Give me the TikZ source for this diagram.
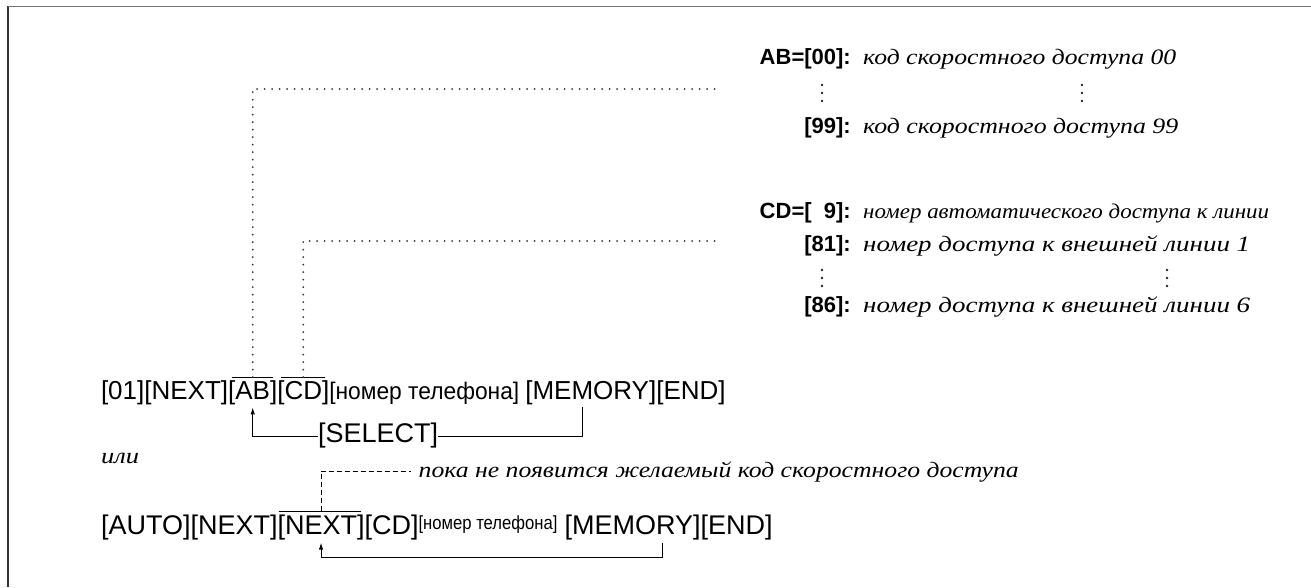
\documentclass[tikz,border=0pt]{standalone}
\usepackage{fontspec}
\usepackage{graphicx}
\setmainfont{Liberation Serif}
\newfontfamily\keyf{Liberation Sans}
\usetikzlibrary{calc,arrows.meta}
\newcommand\hfit[2]{\resizebox{#1}{\height}{#2}}
\begin{document}
\begin{tikzpicture}[x=1pt,y=-1pt,
  key/.style={font=\keyf\fontsize{26}{30}\selectfont, inner sep=0pt, outer sep=0pt, anchor=base west},
  keyb/.style={key, font=\keyf\fontsize{27}{30}\selectfont},
  lab/.style={font=\keyf\bfseries\fontsize{22}{26}\selectfont, inner sep=0pt, anchor=base east},
  itx/.style={font=\itshape\fontsize{22}{26}\selectfont, inner sep=0pt, anchor=base west},
  vdot/.style={fill=black!85},
  dots/.style={line width=2pt, dash pattern=on 0pt off 7.5pt, line cap=round, draw=black!80},
  dashln/.style={line width=0.9pt, dash pattern=on 5pt off 3pt},
  conn/.style={line width=1pt},
  arr/.style={-{Latex[length=7pt,width=4.5pt]}}]
\useasboundingbox (0,0) rectangle (1311,587);
% frame
\draw[line width=1.6pt, black!80] (8,587) -- (8,6);
\draw[line width=0.8pt, black!55] (8,6) -- (1311,6);
% right block AB
\node[lab] (lAB) at (851,64) {AB=[00]:};
\node[itx] (tAB) at (863,64) {\hfit{313pt}{код скоростного доступа 00}};
\foreach \yy in {85,93,101} {
  \fill[vdot] (822,\yy) circle (1.4);
  \fill[vdot] (1082,\yy) circle (1.4);
}
\node[lab] (l99) at (851,133) {[99]:};
\node[itx] (t99) at (863,133) {\hfit{315pt}{код скоростного доступа 99}};
% right block CD
\node[lab] (lCD) at (851,218) {CD=[\hphantom{0}9]:};
\node[itx] (tCD) at (863,218) {\hfit{406pt}{\fontsize{21}{24}\selectfont номер автоматического доступа к линии}};
\node[lab] (l81) at (851,251) {[81]:};
\node[itx] (t81) at (863,251) {\hfit{387pt}{номер доступа к внешней линии 1}};
\foreach \yy in {270,278,286} {
  \fill[vdot] (822,\yy) circle (1.4);
  \fill[vdot] (1167,\yy) circle (1.4);
}
\node[lab] (l86) at (851,312) {[86]:};
\node[itx] (t86) at (863,312) {\hfit{387pt}{номер доступа к внешней линии 6}};
% line 1
\node[key] (a1) at (101,399) {[01]};
\node[key] (a2) at (a1.base east) {[NEXT]};
\node[key] (a3) at (a2.base east) {[AB]};
\node[key] (a4) at (a3.base east) {[CD]};
\node[key] (a5) at (a4.base east) {\hfit{190pt}{\fontsize{24}{24}\selectfont [номер телефона]}};
\node[key] (a6) at ([xshift=6pt]a5.base east) {[MEMORY]};
\node[key] (a7) at (a6.base east) {[END]};
\draw[conn] ([xshift=4pt,yshift=3pt]a3.north west) -- ([xshift=-4pt,yshift=3pt]a3.north east);
\draw[conn] ([xshift=4pt,yshift=3pt]a4.north west) -- ([xshift=-4pt,yshift=3pt]a4.north east);
\coordinate (abR) at (720,89);
\coordinate (cdR) at (720,241);
\draw[dots] ([yshift=3pt]a3.north) |- (abR);
\draw[dots] ([yshift=3pt]a4.north) |- (cdR);
% SELECT loop
\coordinate (yS) at (0,436);
\coordinate (sL) at (a3.south |- yS);
\coordinate (memx1) at ($(a6.south west)!0.44!(a6.south east)$);
\coordinate (sR) at (memx1 |- yS);
\node[keyb, anchor=center] (sel) at ($(sL)!0.38!(sR)$) {[SELECT]};
\draw[conn, arr] (sel.west) -- (sL) -- ([yshift=-3pt]a3.south);
\draw[conn] (sel.east) -- (sR) -- ([yshift=-3pt]memx1);
% или
\node[itx] (ili) at (101,463) {\hfit{38pt}{или}};
% line 2
\node[keyb] (b1) at (101,534) {[AUTO]};
\node[keyb] (b2) at (b1.base east) {[NEXT]};
\node[keyb] (b3) at (b2.base east) {[NEXT]};
\node[keyb] (b4) at (b3.base east) {[CD]};
\node[keyb] (b5) at ([yshift=5pt]b4.base east) {\hfit{139pt}{\fontsize{19}{19}\selectfont [номер телефона]}};
\path (b5.base east |- b4.base east) coordinate (b6p);
\node[keyb] (b6) at ([xshift=7pt]b6p) {[MEMORY]};
\node[keyb] (b7) at (b6.base east) {[END]};
\draw[conn] ([xshift=1pt,yshift=3pt]b3.north west) -- ([xshift=-4pt,yshift=3pt]b3.north east);
% dashed note
\coordinate (pk) at (0,477);
\node[itx] (poka) at (b5.west |- pk) {\hfit{600pt}{пока не появится желаемый код скоростного доступа}};
\coordinate (pkL) at ([xshift=-8pt,yshift=6pt]poka.base west);
\draw[dashln] ([yshift=3pt]b3.north) |- (pkL);
% return loop
\coordinate (yR) at (0,557);
\coordinate (memx2) at ($(b6.south west)!0.72!(b6.south east)$);
\draw[conn, arr] ([yshift=-3pt]memx2) -- (memx2 |- yR) -- (b3.south |- yR) -- ([yshift=-3pt]b3.south);
\end{tikzpicture}
\end{document}
